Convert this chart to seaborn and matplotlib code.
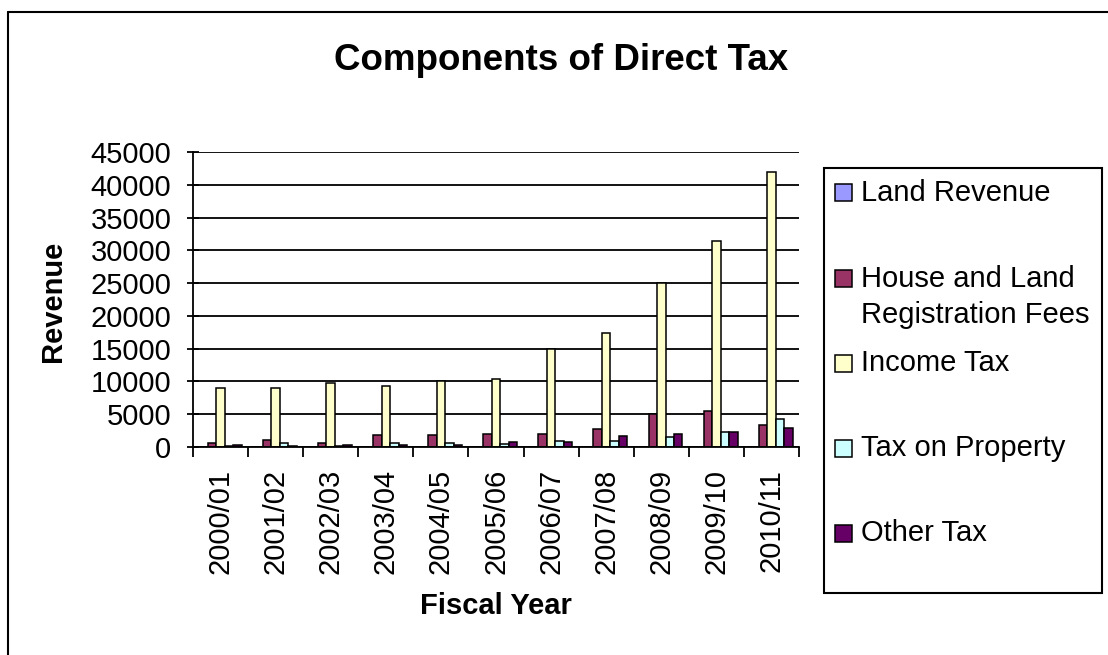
import pandas as pd
import matplotlib
matplotlib.use("Agg")
import matplotlib.pyplot as plt
from matplotlib.patches import Rectangle
from matplotlib.lines import Line2D
from matplotlib.ticker import MultipleLocator, FixedLocator
import seaborn as sns

# data
years = ["2000/01", "2001/02", "2002/03", "2003/04", "2004/05", "2005/06",
         "2006/07", "2007/08", "2008/09", "2009/10", "2010/11"]
components = ["Land Revenue", "House and Land Registration Fees", "Income Tax",
              "Tax on Property", "Other Tax"]
land_revenue = [0, 0, 0, 0, 0, 0, 0, 0, 0, 0, 0]
house_land_fees = [600, 1000, 600, 1770, 1770, 2000, 2000, 2750, 5070, 5530, 3400]
income_tax = [9000, 9000, 9700, 9350, 10050, 10400, 14900, 17400, 25000, 31450, 41900]
tax_on_property = [150, 600, 150, 600, 600, 500, 950, 850, 1520, 2280, 4310]
other_tax = [300, 150, 300, 300, 300, 700, 700, 1720, 2030, 2280, 2890]
colors = ["#9999FF", "#993366", "#FFFFCC", "#CCFFFF", "#660066"]
legend_labels = ["Land Revenue", "House and Land\nRegistration Fees", "Income Tax",
                 "Tax on Property", "Other Tax"]

series = [land_revenue, house_land_fees, income_tax, tax_on_property, other_tax]
rows = []
for name, vals in zip(components, series):
    for y, v in zip(years, vals):
        rows.append({"Fiscal Year": y, "Revenue": v, "Component": name})
df = pd.DataFrame(rows)

sns.set_style("white")
plt.rcParams["font.family"] = ["Liberation Sans", "DejaVu Sans"]
plt.rcParams["text.color"] = "black"
plt.rcParams["axes.labelcolor"] = "black"
plt.rcParams["xtick.color"] = "black"
plt.rcParams["ytick.color"] = "black"

W, H = 1108, 655
fig = plt.figure(figsize=(W / 100, H / 100), dpi=100)

def fx(px):
    return px / W

def fy(py):
    return 1 - py / H

ax = fig.add_axes([fx(193), fy(447), fx(799) - fx(193), fy(152) - fy(447)])
sns.barplot(data=df, x="Fiscal Year", y="Revenue", hue="Component",
            hue_order=components, order=years, palette=colors, saturation=1,
            width=5 / 6.5, edgecolor="black", linewidth=1.1, legend=False, ax=ax)

ax.set_ylim(0, 45000)
ax.set_xlim(-0.5, len(years) - 0.5)
ax.yaxis.set_major_locator(MultipleLocator(5000))
ax.set_axisbelow(True)
ax.yaxis.grid(True, color="black", lw=1.3)
ax.xaxis.grid(False)
for s in ["top", "right"]:
    ax.spines[s].set_visible(False)
for s in ["left", "bottom"]:
    ax.spines[s].set_color("black")
    ax.spines[s].set_linewidth(1.3)

ax.tick_params(axis="y", direction="inout", length=9, width=1.3, color="black",
               labelcolor="black", labelsize=21, pad=11, left=True)
ax.tick_params(axis="x", which="major", length=0, labelsize=21, pad=16,
               labelcolor="black", labelrotation=90)
ax.xaxis.set_minor_locator(FixedLocator([i - 0.5 for i in range(len(years) + 1)]))
ax.tick_params(axis="x", which="minor", direction="out", length=7, width=1.3,
               color="black", bottom=True)
ax.set_xlabel("")
ax.set_ylabel("")

fig.text(fx(561), fy(61), "Components of Direct Tax", ha="center", va="center",
         fontsize=26.5, fontweight="bold", color="black")
fig.text(fx(53), fy(301), "Revenue", rotation=90, ha="center", va="center",
         fontsize=21, fontweight="bold", color="black")
fig.text(fx(496), fy(606), "Fiscal Year", ha="center", va="center",
         fontsize=21, fontweight="bold", color="black")

# legend box drawn like the spreadsheet one
fig.patches.append(Rectangle((fx(824), fy(593)), fx(1102) - fx(824), fy(168) - fy(593),
                             transform=fig.transFigure, facecolor="white",
                             edgecolor="black", lw=1.5))
entry_y = [193, 297, 363, 448, 533]
for lab, col, yy in zip(legend_labels, colors, entry_y):
    sq = 17
    fig.patches.append(Rectangle((fx(835), fy(yy + sq / 2)), fx(sq), sq / H,
                                 transform=fig.transFigure, facecolor=col,
                                 edgecolor="black", lw=1.1))
    fig.text(fx(861), fy(yy), lab, ha="left", va="center", fontsize=21,
             linespacing=1.35, color="black")
# fix the two-line entry square to its first line
fig.patches[-4].set_y(fy(278 + 17 / 2))

# outer chart border (top and left visible)
fig.lines.append(Line2D([fx(8), fx(1108)], [fy(12), fy(12)], transform=fig.transFigure,
                        color="black", lw=1.5))
fig.lines.append(Line2D([fx(8), fx(8)], [fy(12), fy(655)], transform=fig.transFigure,
                        color="black", lw=1.5))

fig.savefig("out.png", dpi=100)
